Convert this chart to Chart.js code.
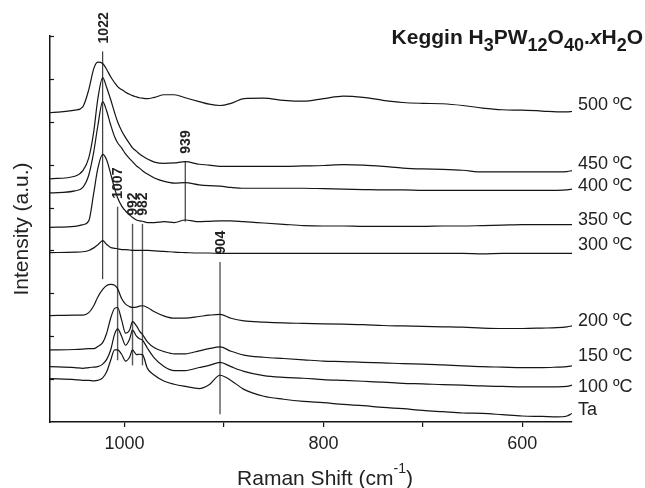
<!DOCTYPE html>
<html>
<head>
<meta charset="utf-8">
<script src="https://cdn.jsdelivr.net/npm/chart.js@4.4.0/dist/chart.umd.min.js"></script>
<style>
  html, body { margin: 0; padding: 0; background: #fff; }
</style>
</head>
<body>
<canvas id="chart" width="645" height="488"></canvas>
<script>
// Raman shift grid (cm-1), shared by all spectra
const wavenumbers = [1075, 1050, 1042, 1036, 1031, 1027, 1022, 1018, 1014, 1010, 1007, 1003, 999, 995, 992, 988, 985, 982, 977, 970,
  960, 950, 939, 925, 915, 904, 893, 880, 860, 840, 820, 800, 780, 760, 740, 720, 700, 680, 660, 640, 620, 600, 580, 565, 555, 550];

// stacked intensities (a.u.), top to bottom
const t500 = [7.21, 7.27, 7.35, 7.75, 8.24, 8.39, 8.36, 8.22, 8.05, 7.91, 7.82, 7.75, 7.69, 7.64, 7.61, 7.58, 7.56, 7.55, 7.54, 7.57,
  7.63, 7.63, 7.56, 7.47, 7.41, 7.38, 7.43, 7.54, 7.55, 7.50, 7.48, 7.54, 7.60, 7.57, 7.50, 7.45, 7.43, 7.42, 7.38, 7.32, 7.28, 7.27, 7.25, 7.23, 7.23, 7.24];
const t450 = [5.67, 5.73, 5.86, 6.16, 6.77, 7.52, 8.03, 7.80, 7.52, 7.21, 7.00, 6.79, 6.63, 6.49, 6.39, 6.31, 6.25, 6.20, 6.13, 6.06,
  6.03, 6.04, 6.07, 6.01, 5.99, 5.96, 5.96, 5.96, 5.96, 5.96, 5.97, 5.98, 6.00, 5.99, 5.96, 5.92, 5.90, 5.89, 5.87, 5.83, 5.83, 5.83, 5.83, 5.83, 5.84, 5.86];
const t400 = [5.34, 5.39, 5.47, 5.76, 6.30, 6.89, 7.47, 7.25, 6.93, 6.65, 6.51, 6.39, 6.25, 6.14, 6.07, 5.97, 5.92, 5.86, 5.78, 5.69,
  5.61, 5.57, 5.58, 5.53, 5.51, 5.50, 5.47, 5.45, 5.45, 5.45, 5.45, 5.44, 5.43, 5.42, 5.41, 5.41, 5.40, 5.40, 5.40, 5.40, 5.40, 5.40, 5.40, 5.40, 5.41, 5.43];
const t350 = [4.54, 4.56, 4.60, 4.69, 5.34, 5.90, 6.24, 6.11, 5.79, 5.44, 5.23, 5.04, 4.92, 4.83, 4.77, 4.71, 4.69, 4.68, 4.65, 4.65,
  4.67, 4.65, 4.71, 4.67, 4.68, 4.69, 4.69, 4.67, 4.64, 4.61, 4.58, 4.57, 4.57, 4.56, 4.56, 4.56, 4.56, 4.57, 4.57, 4.58, 4.59, 4.60, 4.60, 4.60, 4.60, 4.60];
const t300 = [3.95, 3.96, 3.97, 4.00, 4.06, 4.13, 4.23, 4.14, 4.07, 4.05, 4.04, 4.02, 4.02, 4.01, 4.00, 4.00, 4.00, 4.00, 4.00, 3.99,
  3.98, 3.96, 3.95, 3.94, 3.94, 3.93, 3.93, 3.93, 3.93, 3.93, 3.93, 3.93, 3.93, 3.93, 3.93, 3.93, 3.93, 3.93, 3.93, 3.92, 3.93, 3.93, 3.93, 3.93, 3.93, 3.93];
const t200 = [2.48, 2.49, 2.49, 2.55, 2.71, 2.91, 3.09, 3.18, 3.21, 3.19, 3.11, 2.88, 2.75, 2.69, 2.67, 2.68, 2.70, 2.71, 2.67, 2.57,
  2.47, 2.42, 2.42, 2.46, 2.49, 2.51, 2.42, 2.36, 2.33, 2.31, 2.30, 2.29, 2.28, 2.27, 2.25, 2.24, 2.23, 2.22, 2.21, 2.19, 2.18, 2.18, 2.19, 2.20, 2.22, 2.24];
const t150 = [1.68, 1.69, 1.70, 1.71, 1.71, 1.76, 1.85, 2.07, 2.42, 2.65, 2.67, 2.38, 2.07, 2.14, 2.34, 2.24, 2.12, 2.04, 1.87, 1.73,
  1.64, 1.59, 1.59, 1.66, 1.71, 1.75, 1.65, 1.56, 1.51, 1.48, 1.45, 1.42, 1.41, 1.39, 1.38, 1.36, 1.35, 1.33, 1.31, 1.29, 1.28, 1.27, 1.27, 1.28, 1.29, 1.31];
const t100 = [1.29, 1.27, 1.25, 1.27, 1.28, 1.29, 1.35, 1.46, 1.68, 2.05, 2.17, 2.00, 1.79, 1.93, 2.14, 2.00, 1.94, 1.91, 1.72, 1.49,
  1.29, 1.20, 1.20, 1.27, 1.32, 1.39, 1.29, 1.18, 1.08, 1.04, 1.02, 0.99, 0.97, 0.95, 0.93, 0.90, 0.89, 0.87, 0.86, 0.84, 0.83, 0.82, 0.82, 0.82, 0.83, 0.86];
const tTa = [1.01, 0.99, 0.97, 0.97, 0.96, 0.97, 1.03, 1.17, 1.44, 1.68, 1.68, 1.58, 1.42, 1.51, 1.68, 1.57, 1.58, 1.57, 1.25, 1.09,
  0.95, 0.88, 0.83, 0.78, 0.87, 1.09, 0.97, 0.76, 0.60, 0.53, 0.48, 0.45, 0.41, 0.38, 0.34, 0.31, 0.27, 0.24, 0.21, 0.20, 0.17, 0.14, 0.13, 0.12, 0.14, 0.20];

const spectra = [t500, t450, t400, t350, t300, t200, t150, t100, tTa];
const seriesNames = ['500 ºC', '450 ºC', '400 ºC', '350 ºC', '300 ºC', '200 ºC', '150 ºC', '100 ºC', 'Ta'];
const labelLevels = [7.40, 6.01, 5.50, 4.70, 4.12, 2.36, 1.54, 0.82, 0.27];

// assigned bands: marker line from peakBottom to peakTop
const peakPos = [1022, 1007, 992, 982, 939, 904];
const peakTop = [8.64, 5.02, 4.62, 4.62, 6.07, 3.73];
const peakBottom = [3.33, 1.44, 1.32, 1.32, 4.67, 0.18];

const yTicks = [1, 2, 3, 4, 5, 6, 7, 8, 9];
const FONT = 'Arial, "Liberation Sans", Helvetica, sans-serif';

const datasets = spectra.map((vals, i) => ({
  label: seriesNames[i],
  data: vals.map((v, k) => ({ x: wavenumbers[k], y: v })),
  borderColor: '#151515',
  borderWidth: 1.2,
  pointRadius: 0,
  cubicInterpolationMode: 'monotone',
  fill: false
}));

peakPos.forEach((p, i) => {
  const grey = p === 1007 || p === 992 || p === 982;
  datasets.push({
    label: 'band ' + p,
    data: [{ x: p, y: peakBottom[i] }, { x: p, y: peakTop[i] }],
    borderColor: grey ? '#555' : '#151515',
    borderWidth: grey ? 1.4 : 1,
    pointRadius: 0,
    fill: false
  });
});

function drawRuns(ctx, runs, x, baseline) {
  runs.forEach(r => {
    ctx.font = r.font;
    ctx.fillText(r.text, x, baseline + (r.dy || 0));
    x += ctx.measureText(r.text).width;
  });
}
function runsWidth(ctx, runs) {
  let w = 0;
  runs.forEach(r => { ctx.font = r.font; w += ctx.measureText(r.text).width; });
  return w;
}

const annotate = {
  id: 'annotate',
  afterDraw(chart) {
    const { ctx, chartArea: a, scales: { x, y } } = chart;
    ctx.save();

    // inward ticks on the intensity axis
    ctx.strokeStyle = '#151515';
    ctx.lineWidth = 1.2;
    yTicks.forEach(v => {
      const py = Math.round(y.getPixelForValue(v)) + 0.5;
      ctx.beginPath();
      ctx.moveTo(a.left, py);
      ctx.lineTo(a.left + 4, py);
      ctx.stroke();
    });

    // temperature labels
    ctx.fillStyle = '#222';
    ctx.textAlign = 'left';
    ctx.textBaseline = 'middle';
    ctx.font = '18px ' + FONT;
    seriesNames.forEach((n, i) => ctx.fillText(n, a.right + 6, y.getPixelForValue(labelLevels[i])));

    // band labels
    ctx.font = 'bold 14px ' + FONT;
    peakPos.forEach((p, i) => {
      ctx.save();
      ctx.translate(x.getPixelForValue(p) + 1, y.getPixelForValue(peakTop[i]) - 8);
      ctx.rotate(-Math.PI / 2);
      ctx.textAlign = 'left';
      ctx.textBaseline = 'middle';
      ctx.fillText(String(p), 0, 0);
      ctx.restore();
    });

    // axis titles
    ctx.textBaseline = 'alphabetic';
    const xt = [
      { text: 'Raman Shift (cm', font: '21px ' + FONT },
      { text: '-1', font: '14px ' + FONT, dy: -12 },
      { text: ')', font: '21px ' + FONT }
    ];
    drawRuns(ctx, xt, 325 - runsWidth(ctx, xt) / 2, 485);

    ctx.save();
    ctx.translate(28, (a.top + a.bottom) / 2);
    ctx.rotate(-Math.PI / 2);
    ctx.textAlign = 'center';
    ctx.font = '21px ' + FONT;
    ctx.fillText('Intensity (a.u.)', 0, 0);
    ctx.restore();

    // title
    const B = 'bold 21px ' + FONT, S = 'bold 18px ' + FONT;
    const title = [
      { text: 'Keggin H', font: B }, { text: '3', font: S, dy: 7 },
      { text: 'PW', font: B }, { text: '12', font: S, dy: 7 },
      { text: 'O', font: B }, { text: '40', font: S, dy: 7 },
      { text: '.', font: B }, { text: 'x', font: 'italic ' + B },
      { text: 'H', font: B }, { text: '2', font: S, dy: 7 },
      { text: 'O', font: B }
    ];
    ctx.fillStyle = '#1a1a1a';
    drawRuns(ctx, title, 643 - runsWidth(ctx, title), 44);

    ctx.restore();
  }
};

new Chart(document.getElementById('chart'), {
  type: 'line',
  data: { datasets: datasets },
  options: {
    responsive: false,
    animation: false,
    layout: { padding: { left: 0, right: 73, top: 36, bottom: 0 } },
    plugins: { legend: { display: false }, tooltip: { enabled: false } },
    scales: {
      x: {
        type: 'linear',
        reverse: true,
        min: 550,
        max: 1075,
        border: { display: true, color: '#151515', width: 1.5 },
        grid: { drawOnChartArea: false, drawTicks: true, tickLength: 5, color: '#151515', lineWidth: 1.2 },
        ticks: {
          stepSize: 100,
          includeBounds: false,
          autoSkip: false,
          maxRotation: 0,
          padding: 6,
          color: '#222',
          font: { size: 18, family: FONT },
          callback: v => (v % 200 === 0 ? String(v) : '')
        },
        afterFit: s => { s.height = 66; }
      },
      y: {
        min: 0,
        max: 9,
        border: { display: true, color: '#151515', width: 1.5 },
        grid: { display: false },
        ticks: { display: false, stepSize: 1 },
        afterFit: s => { s.width = 50; }
      }
    }
  },
  plugins: [annotate]
});
</script>
</body>
</html>
